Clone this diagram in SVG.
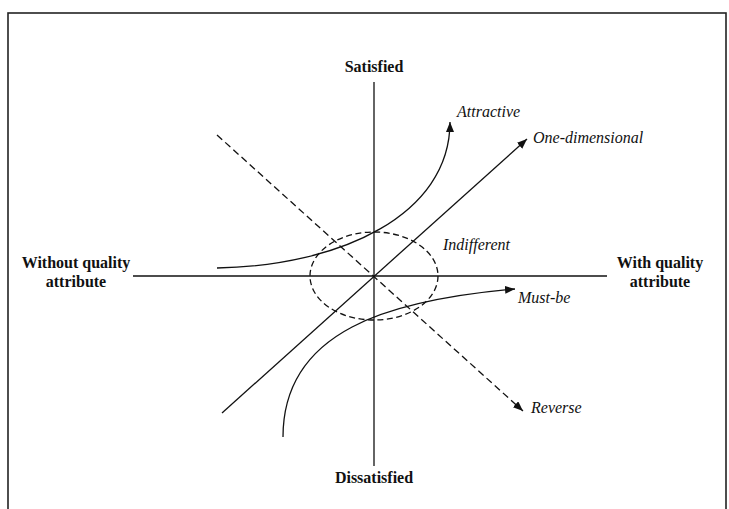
<svg xmlns="http://www.w3.org/2000/svg" width="729" height="509" viewBox="0 0 729 509">
<style>
.ln{fill:none;stroke:#111;stroke-width:1.3}
.dash{fill:none;stroke:#111;stroke-width:1.3;stroke-dasharray:7 4}
.edash{fill:none;stroke:#111;stroke-width:1.3;stroke-dasharray:6 3.5}
.ax{font-family:"Liberation Serif","Times New Roman",serif;font-weight:bold;font-size:16px;fill:#111;text-anchor:middle}
.it{font-family:"Liberation Serif","Times New Roman",serif;font-style:italic;font-size:16px;fill:#111}
</style>
<defs>
<marker id="ah" markerUnits="userSpaceOnUse" markerWidth="12" markerHeight="10" refX="10" refY="4" orient="auto" viewBox="0 0 12 10">
<path d="M0,0 L10,4 L0,8 Z" fill="#111"/>
</marker>
</defs>
<rect x="8" y="13" width="718" height="520" fill="#fff" stroke="#222" stroke-width="1.6"/>
<g id="axes">
<line class="ln" x1="374" y1="82" x2="374" y2="466"/>
<line class="ln" x1="133" y1="276" x2="607" y2="276"/>
</g>
<g id="axis-labels">
<text class="ax" x="374" y="72">Satisfied</text>
<text class="ax" x="374" y="483">Dissatisfied</text>
<text class="ax" x="76" y="268">Without quality</text>
<text class="ax" x="76" y="287">attribute</text>
<text class="ax" x="660" y="268">With quality</text>
<text class="ax" x="660" y="287">attribute</text>
</g>
<g id="connectors">
<ellipse class="edash" cx="374" cy="276" rx="64" ry="44"/>
<line class="dash" x1="217" y1="135" x2="523" y2="411" marker-end="url(#ah)"/>
<line class="ln" x1="222" y1="413" x2="527" y2="139" marker-end="url(#ah)"/>
<path class="ln" d="M217,268 C340,266 450,215 450,122" marker-end="url(#ah)"/>
<path class="ln" d="M283,437 C283,330 390,300 515,289" marker-end="url(#ah)"/>
</g>
<g id="attractive"><text class="it" x="457" y="117">Attractive</text></g>
<g id="one-dimensional"><text class="it" x="533" y="143">One-dimensional</text></g>
<g id="indifferent"><text class="it" x="443" y="250">Indifferent</text></g>
<g id="must-be"><text class="it" x="518" y="303">Must-be</text></g>
<g id="reverse"><text class="it" x="531" y="413">Reverse</text></g>
</svg>
